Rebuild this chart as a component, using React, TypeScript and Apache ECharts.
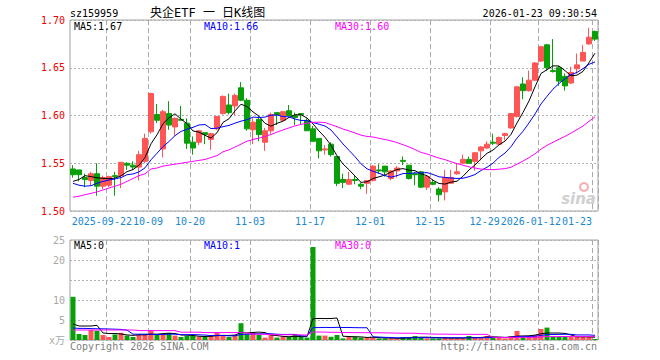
import React, { useEffect, useRef } from "react";
import * as echarts from "echarts";

const dates = [
  "2025-09-12", "2025-09-15", "2025-09-16", "2025-09-17", "2025-09-18", "2025-09-19",
  "2025-09-22", "2025-09-23", "2025-09-24", "2025-09-25", "2025-09-26", "2025-09-29", "2025-09-30",
  "2025-10-09", "2025-10-10", "2025-10-13", "2025-10-14", "2025-10-15", "2025-10-16", "2025-10-17",
  "2025-10-20", "2025-10-21", "2025-10-22", "2025-10-23", "2025-10-24",
  "2025-10-27", "2025-10-28", "2025-10-29", "2025-10-30", "2025-10-31",
  "2025-11-03", "2025-11-04", "2025-11-05", "2025-11-06", "2025-11-07",
  "2025-11-10", "2025-11-11", "2025-11-12", "2025-11-13", "2025-11-14",
  "2025-11-17", "2025-11-18", "2025-11-19", "2025-11-20", "2025-11-21",
  "2025-11-24", "2025-11-25", "2025-11-26", "2025-11-27", "2025-11-28",
  "2025-12-01", "2025-12-02", "2025-12-03", "2025-12-04", "2025-12-05",
  "2025-12-08", "2025-12-09", "2025-12-10", "2025-12-11", "2025-12-12",
  "2025-12-15", "2025-12-16", "2025-12-17", "2025-12-18", "2025-12-19",
  "2025-12-22", "2025-12-23", "2025-12-24", "2025-12-25", "2025-12-26",
  "2025-12-29", "2025-12-30", "2025-12-31",
  "2026-01-05", "2026-01-06", "2026-01-07", "2026-01-08", "2026-01-09",
  "2026-01-12", "2026-01-13", "2026-01-14", "2026-01-15", "2026-01-16",
  "2026-01-19", "2026-01-20", "2026-01-21", "2026-01-22", "2026-01-23",
];

const openP = [
  1.544, 1.543, 1.535, 1.532, 1.539, 1.526, 1.527, 1.537, 1.537, 1.550,
  1.548, 1.546, 1.552, 1.583, 1.601, 1.565, 1.602, 1.588, 1.596, 1.592,
  1.572, 1.572, 1.582, 1.575, 1.586, 1.602, 1.611, 1.610, 1.629, 1.616,
  1.585, 1.596, 1.572, 1.584, 1.603, 1.595, 1.605, 1.600, 1.602, 1.595,
  1.586, 1.576, 1.564, 1.570, 1.557, 1.533, 1.528, 1.533, 1.528, 1.529,
  1.532, 1.543, 1.547, 1.534, 1.542, 1.553, 1.548, 1.539, 1.541, 1.525,
  1.530, 1.523, 1.520, 1.529, 1.539, 1.550, 1.554, 1.552, 1.563, 1.566,
  1.572, 1.570, 1.579, 1.587, 1.599, 1.633, 1.626, 1.637, 1.657, 1.674,
  1.647, 1.650, 1.641, 1.634, 1.649, 1.657, 1.675, 1.688,
];
const closeP = [
  1.538, 1.538, 1.533, 1.539, 1.526, 1.535, 1.536, 1.536, 1.551, 1.548,
  1.546, 1.559, 1.576, 1.623, 1.595, 1.604, 1.590, 1.597, 1.595, 1.571,
  1.566, 1.584, 1.580, 1.581, 1.599, 1.620, 1.603, 1.621, 1.616, 1.586,
  1.593, 1.580, 1.584, 1.601, 1.601, 1.604, 1.600, 1.598, 1.601, 1.584,
  1.573, 1.563, 1.565, 1.559, 1.529, 1.530, 1.533, 1.532, 1.526, 1.532,
  1.547, 1.542, 1.541, 1.542, 1.545, 1.552, 1.534, 1.538, 1.525, 1.536,
  1.528, 1.517, 1.535, 1.535, 1.541, 1.554, 1.550, 1.561, 1.567, 1.570,
  1.571, 1.577, 1.581, 1.602, 1.630, 1.626, 1.637, 1.655, 1.672, 1.650,
  1.646, 1.636, 1.631, 1.645, 1.653, 1.666, 1.682, 1.680,
];
const lowP = [
  1.535, 1.531, 1.525, 1.527, 1.516, 1.523, 1.525, 1.516, 1.524, 1.543,
  1.543, 1.532, 1.550, 1.581, 1.592, 1.556, 1.585, 1.579, 1.595, 1.565,
  1.559, 1.569, 1.570, 1.564, 1.585, 1.601, 1.601, 1.600, 1.615, 1.584,
  1.570, 1.573, 1.563, 1.581, 1.590, 1.594, 1.599, 1.590, 1.591, 1.584,
  1.573, 1.555, 1.559, 1.557, 1.526, 1.524, 1.528, 1.528, 1.523, 1.518,
  1.531, 1.539, 1.536, 1.532, 1.535, 1.548, 1.533, 1.527, 1.524, 1.522,
  1.527, 1.510, 1.511, 1.529, 1.538, 1.550, 1.550, 1.542, 1.553, 1.565,
  1.569, 1.569, 1.574, 1.586, 1.598, 1.617, 1.625, 1.636, 1.656, 1.647,
  1.645, 1.631, 1.626, 1.633, 1.644, 1.657, 1.674, 1.678,
];
const highP = [
  1.548, 1.543, 1.539, 1.541, 1.550, 1.537, 1.537, 1.541, 1.551, 1.551,
  1.552, 1.563, 1.581, 1.624, 1.612, 1.606, 1.615, 1.598, 1.610, 1.597,
  1.578, 1.585, 1.582, 1.582, 1.599, 1.621, 1.623, 1.623, 1.635, 1.618,
  1.597, 1.599, 1.587, 1.603, 1.603, 1.604, 1.611, 1.603, 1.602, 1.597,
  1.589, 1.576, 1.569, 1.572, 1.557, 1.539, 1.541, 1.537, 1.530, 1.532,
  1.548, 1.549, 1.547, 1.543, 1.547, 1.557, 1.548, 1.541, 1.542, 1.537,
  1.533, 1.525, 1.543, 1.543, 1.550, 1.559, 1.557, 1.561, 1.568, 1.573,
  1.581, 1.578, 1.582, 1.602, 1.631, 1.640, 1.647, 1.656, 1.673, 1.675,
  1.680, 1.652, 1.644, 1.651, 1.665, 1.674, 1.692, 1.689,
];
// volume in 万 (10k)
const volume = [
  10.8, 1.5, 1.25, 2.5, 2.3, 1.25, 0.75, 1.4, 1.8, 1.1,
  0.75, 1.4, 1.4, 2.5, 1.25, 1.4, 1.8, 1.1, 0.75, 1.0,
  1.0, 0.8, 0.8, 1.1, 1.8, 1.25, 0.75, 1.25, 4.2, 1.4,
  1.8, 1.25, 0.6, 1.25, 0.6, 0.8, 0.8, 1.25, 0.75, 0.6,
  23.25, 1.1, 1.1, 0.8, 1.25, 0.4, 0.8, 0.8, 0.6, 0.6,
  0.6, 0.4, 0.4, 0.4, 0.4, 0.7, 0.7, 1.0, 0.7, 0.4,
  0.4, 0.4, 0.7, 0.4, 0.4, 0.4, 1.0, 0.7, 0.7, 1.0,
  0.6, 0.6, 0.4, 1.0, 2.25, 0.8, 0.8, 1.25, 2.75, 3.1,
  0.8, 0.8, 0.8, 0.8, 0.8, 0.8, 0.8, 0.25,
];

// moving-average values before enough history is visible
const ma5Head = [1.531, 1.533, 1.537, 1.536];
const ma10Head = [1.529, 1.527, 1.526, 1.5265, 1.529, 1.531, 1.5325, 1.5335, 1.535];
const ma30Head = [
  1.5145, 1.5155, 1.517, 1.5185, 1.52, 1.522, 1.524, 1.526, 1.528, 1.531,
  1.534, 1.537, 1.539, 1.544, 1.545, 1.547, 1.548, 1.549, 1.55, 1.551,
  1.552, 1.553, 1.554, 1.556, 1.558, 1.562, 1.564, 1.567, 1.57,
];
const vma5Head = [4.0, 3.5, 3.5, 3.5];
const vma10Head = [3.0, 2.9, 2.9, 2.85, 2.8, 2.8, 2.75, 2.7, 2.65];
const vma30Head = [
  2.5, 2.5, 2.5, 2.5, 2.5, 2.5, 2.5, 2.5, 2.5, 2.5, 2.5,
  2.35, 2.35, 2.35, 2.35, 2.35, 2.35, 2.35,
  1.95, 1.95, 1.95, 1.95,
  1.85, 1.85, 1.85, 1.85, 1.85, 1.85, 1.85,
];

const tickIndex = [6, 13, 20, 30, 40, 50, 60, 70, 78, 87];
const tickLabels = ["2025-09-22", "10-09", "10-20", "11-03", "11-17", "12-01", "12-15", "12-29", "2026-01-12", "01-23"];
const volumeTickLabels = ["", "5", "10", "", "20", "25"];

const MONO = '"DejaVu Sans Mono", "Liberation Mono", monospace';
const CHAR_W = 6.02; // advance of 10px DejaVu Sans Mono
const RED = "#ff5555";
const GREEN = "#08a008";
const DATE_BLUE = "#1a88d0";

function movingAvg(values: number[], n: number, head: number[]) {
  return values.map((_, i) => {
    if (i < head.length) return head[i];
    let s = 0;
    for (let k = i - n + 1; k <= i; k++) s += values[k];
    return +(s / n).toFixed(4);
  });
}

function txt(text: string, x: number, y: number, fill: string, align = "left", font = `10px ${MONO}`) {
  return {
    type: "text",
    x,
    y,
    silent: true,
    z: 100,
    style: { text, fill, font, textAlign: align, textVerticalAlign: "middle", align, verticalAlign: "middle" },
  };
}

export default function App() {
  const ref = useRef<HTMLDivElement>(null);
  useEffect(() => {
    if (!ref.current) return;
    const chart = echarts.init(ref.current, undefined, { renderer: "svg" });
    const kData = dates.map((_, i) => [openP[i], closeP[i], lowP[i], highP[i]]);
    const volData = volume.map((v, i) => ({
      value: v,
      itemStyle: { color: closeP[i] >= openP[i] ? RED : GREEN },
    }));
    const isTick = (idx: number) => tickIndex.indexOf(idx) >= 0;
    const splitX = {
      show: true,
      interval: (idx: number) => isTick(idx),
      lineStyle: { color: "#aaaaaa", type: [5, 3], width: 1 },
    };
    const dotted = { show: true, lineStyle: { color: "#b0b0b0", type: [2, 2], width: 1 } };
    const baseGraphics: any[] = [
      txt("sz159959", 70, 13, "#000000"),
      txt("央企ETF 一 日K线图", 150, 13, "#000000", "left", `12px "DejaVu Sans Mono", "Noto Sans CJK SC"`),
      txt("2026-01-23 09:30:54", 597, 13, "#000000", "right"),
      txt("MA5:1.67", 74, 26, "#000000"),
      txt("MA10:1.66", 204, 26, "#0000ff"),
      txt("MA30:1.60", 335, 26, "#ff00ff"),
      txt("MA5:0", 74, 245, "#000000"),
      txt("MA10:1", 204, 245, "#0000ff"),
      txt("MA30:0", 335, 245, "#ff00ff"),
      txt("x万", 65, 340, "#a8a8a8", "right", `10px "DejaVu Sans Mono", "Noto Sans CJK SC"`),
      txt("Copyright 2026 SINA.COM", 70, 346, "#808080"),
      txt("http://finance.sina.com.cn", 597, 346, "#808080", "right"),
      {
        type: "circle",
        silent: true,
        shape: { cx: 584, cy: 187, r: 4 },
        style: { fill: "none", stroke: "#f4b0b0", lineWidth: 2 },
      },
      txt("sina", 596, 199, "#d0d0d0", "right", `italic bold 15px "DejaVu Sans", sans-serif`),
    ];
    const option: any = {
      animation: false,
      backgroundColor: "#ffffff",
      grid: [
        { left: 70, top: 20, width: 528, height: 191, show: true, borderColor: "#a0a0a0", borderWidth: 1, backgroundColor: "transparent" },
        { left: 70, top: 240, width: 528, height: 100, show: true, borderColor: "#a0a0a0", borderWidth: 1, backgroundColor: "transparent" },
      ],
      xAxis: [
        {
          type: "category",
          gridIndex: 0,
          data: dates,
          boundaryGap: true,
          axisLine: { show: false },
          axisTick: { show: false },
          axisLabel: { show: false },
          splitLine: splitX,
        },
        {
          type: "category",
          gridIndex: 1,
          data: dates,
          boundaryGap: true,
          axisLine: { show: false },
          axisTick: { show: false },
          axisLabel: { show: false },
          splitLine: splitX,
        },
      ],
      yAxis: [
        {
          type: "value",
          gridIndex: 0,
          min: 1.5,
          max: 1.7,
          interval: 0.05,
          axisLine: { show: false },
          axisTick: { show: false },
          axisLabel: {
            formatter: (v: number) => v.toFixed(2),
            color: "#ee0000",
            fontFamily: MONO,
            fontSize: 10,
            margin: 5,
            showMinLabel: true,
            showMaxLabel: true,
          },
          splitLine: dotted,
        },
        {
          type: "value",
          gridIndex: 1,
          min: 0,
          max: 25,
          interval: 5,
          axisLine: { show: false },
          axisTick: { show: false },
          axisLabel: {
            formatter: (v: number) => volumeTickLabels[Math.round(v / 5)] ?? "",
            color: "#a8a8a8",
            fontFamily: MONO,
            fontSize: 10,
            margin: 5,
          },
          splitLine: dotted,
        },
      ],
      series: [
        {
          type: "candlestick",
          xAxisIndex: 0,
          yAxisIndex: 0,
          data: kData,
          barWidth: 5,
          itemStyle: { color: RED, color0: GREEN, borderColor: RED, borderColor0: GREEN, borderWidth: 1 },
        },
        { type: "line", xAxisIndex: 0, yAxisIndex: 0, data: movingAvg(closeP, 5, ma5Head), symbol: "none", lineStyle: { color: "#000000", width: 1 } },
        { type: "line", xAxisIndex: 0, yAxisIndex: 0, data: movingAvg(closeP, 10, ma10Head), symbol: "none", lineStyle: { color: "#0000ff", width: 1 } },
        { type: "line", xAxisIndex: 0, yAxisIndex: 0, data: movingAvg(closeP, 30, ma30Head), symbol: "none", lineStyle: { color: "#ff00ff", width: 1 } },
        { type: "bar", xAxisIndex: 1, yAxisIndex: 1, data: volData, barWidth: 5 },
        { type: "line", xAxisIndex: 1, yAxisIndex: 1, data: movingAvg(volume, 5, vma5Head), symbol: "none", lineStyle: { color: "#000000", width: 1 } },
        { type: "line", xAxisIndex: 1, yAxisIndex: 1, data: movingAvg(volume, 10, vma10Head), symbol: "none", lineStyle: { color: "#0000ff", width: 1 } },
        { type: "line", xAxisIndex: 1, yAxisIndex: 1, data: movingAvg(volume, 30, vma30Head), symbol: "none", lineStyle: { color: "#ff00ff", width: 1 } },
      ],
      graphic: baseGraphics,
    };
    chart.setOption(option);

    // date labels centred on the category boundaries (where the dashed split lines are);
    // the last one ends on its line, and a label is nudged left if it would run into the next one
    const c0 = chart.convertToPixel({ xAxisIndex: 0 }, 0) as number;
    const c1 = chart.convertToPixel({ xAxisIndex: 0 }, 1) as number;
    const half = (c1 - c0) / 2;
    const yLabel = (chart.convertToPixel({ yAxisIndex: 0 }, 1.5) as number) + 10;
    const lefts: number[] = new Array(tickIndex.length);
    const widths = tickLabels.map((s) => s.length * CHAR_W);
    for (let k = tickIndex.length - 1; k >= 0; k--) {
      const px = (chart.convertToPixel({ xAxisIndex: 0 }, tickIndex[k]) as number) - half;
      let left = k === tickIndex.length - 1 ? px - widths[k] : px - widths[k] / 2;
      if (k < tickIndex.length - 1) {
        const limit = lefts[k + 1] - 1;
        if (left + widths[k] > limit) left = limit - widths[k];
      }
      lefts[k] = left;
    }
    const dateGraphics = tickLabels.map((s, k) => txt(s, lefts[k], yLabel, DATE_BLUE, "left"));
    chart.setOption({ graphic: [...baseGraphics, ...dateGraphics] });
    return () => chart.dispose();
  }, []);
  return (
    <div
      ref={ref}
      style={{ position: "absolute", left: 0, top: 0, width: 660, height: 360, background: "#fff" }}
    />
  );
}
